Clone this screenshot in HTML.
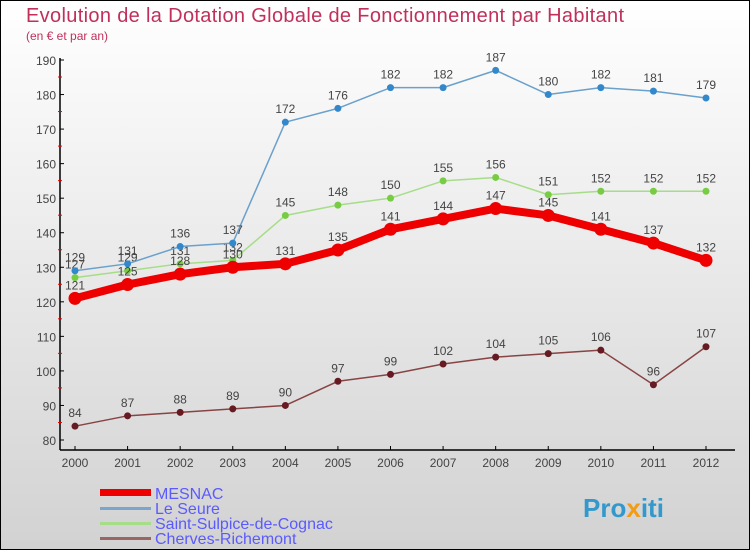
<!DOCTYPE html>
<html><head><meta charset="utf-8"><style>
body{margin:0}
svg{display:block;font-family:"Liberation Sans",sans-serif}
</style></head><body>
<svg id="c" width="750" height="550" xmlns="http://www.w3.org/2000/svg">
<defs><linearGradient id="bg" x1="0" y1="0" x2="0" y2="1"><stop offset="0" stop-color="#ffffff"/><stop offset="1" stop-color="#d2d2d2"/></linearGradient></defs>
<rect x="0.5" y="0.5" width="749" height="549" fill="url(#bg)" stroke="#000"/>
<text x="26" y="22" font-size="20" textLength="598" fill="#c0305a">Evolution de la Dotation Globale de Fonctionnement par Habitant</text>
<text x="26" y="40" font-size="12" fill="#c0305a">(en € et par an)</text>
<g id="axes"></g><g id="series"></g>
<g>
<rect x="100" y="489" width="51" height="7" fill="#e00"/>
<text x="155" y="499" font-size="16" fill="#5a5aff">MESNAC</text>
<rect x="100" y="507" width="51" height="3" fill="#7aa6cc"/>
<text x="155" y="514" font-size="16" fill="#5a5aff">Le Seure</text>
<rect x="100" y="522" width="51" height="3" fill="#a6dd88"/>
<text x="155" y="529" font-size="16" fill="#5a5aff">Saint-Sulpice-de-Cognac</text>
<rect x="100" y="537" width="51" height="3" fill="#996666"/>
<text x="155" y="544" font-size="16" fill="#5a5aff">Cherves-Richemont</text>
</g>
<text x="583" y="517" font-size="26" font-weight="bold" fill="#3399cc">Pro<tspan fill="#f39c12">x</tspan>iti</text>
</svg>
<script>
const years=[2000,2001,2002,2003,2004,2005,2006,2007,2008,2009,2010,2011,2012];
const mesnac=[121,125,128,130,131,135,141,144,147,145,141,137,132];
const seure=[129,131,136,137,172,176,182,182,187,180,182,181,179];
const sulpice=[127,129,131,132,145,148,150,155,156,151,152,152,152];
const cherves=[84,87,88,89,90,97,99,102,104,105,106,96,107];
const yTicks=[80,90,100,110,120,130,140,150,160,170,180,190];
const NS="http://www.w3.org/2000/svg";
const xS=i=>75+i*(706-75)/(years.length-1);
const yS=v=>440-(v-80)*(380/110);
function mk(t,a,p){const e=document.createElementNS(NS,t);for(const k in a)e.setAttribute(k,a[k]);p.appendChild(e);return e;}
const ax=document.getElementById('axes');
let l=mk('line',{x1:60,y1:58,x2:60,y2:450,stroke:'#000','stroke-width':1.5},ax);


l=mk('line',{x1:60,y1:450,x2:735,y2:450,stroke:'#000','stroke-width':1.5},ax);


yTicks.forEach((v,k)=>{const y=yS(v);
 mk('line',{x1:60,y1:y,x2:64,y2:y,stroke:'#000'},ax);
 if(k>0) mk('line',{x1:58,y1:y+17,x2:62,y2:y+17,stroke:'#e00'},ax);
 const t=mk('text',{x:56,y:y+5,'font-size':12,fill:'#444','text-anchor':'end'},ax);t.textContent=v;
 
 });
years.forEach((yr,i)=>{const x=xS(i);
 mk('line',{x1:x,y1:446,x2:x,y2:450,stroke:'#000'},ax);
 const t=mk('text',{x:x,y:467,'font-size':12,fill:'#444','text-anchor':'middle'},ax);t.textContent=yr;
 
 });
const sg=document.getElementById('series');
function draw(d,col,dot,w,r,name){
 const g=mk('g',{},sg);
 
 
 mk('polyline',{points:d.map((v,i)=>xS(i)+','+yS(v)).join(' '),fill:'none',stroke:col,'stroke-width':w,'stroke-linejoin':'round'},g);
 d.forEach((v,i)=>{const c=mk('circle',{cx:xS(i),cy:yS(v),r:r,fill:dot},g);
  
  
  const t=mk('text',{x:xS(i),y:yS(v)-9,'font-size':12,fill:'#444','text-anchor':'middle'},g);t.textContent=v;
  
  });
}
draw(cherves,'#884444','#661a22',1.5,3.5,'cherves');
draw(sulpice,'#a6dd88','#77cc44',1.5,3.5,'sulpice');
draw(seure,'#6aa0cc','#3388cc',1.5,3.5,'seure');
draw(mesnac,'#ee0000','#ee0000',8,6.5,'mesnac');
</script>
</body></html>
